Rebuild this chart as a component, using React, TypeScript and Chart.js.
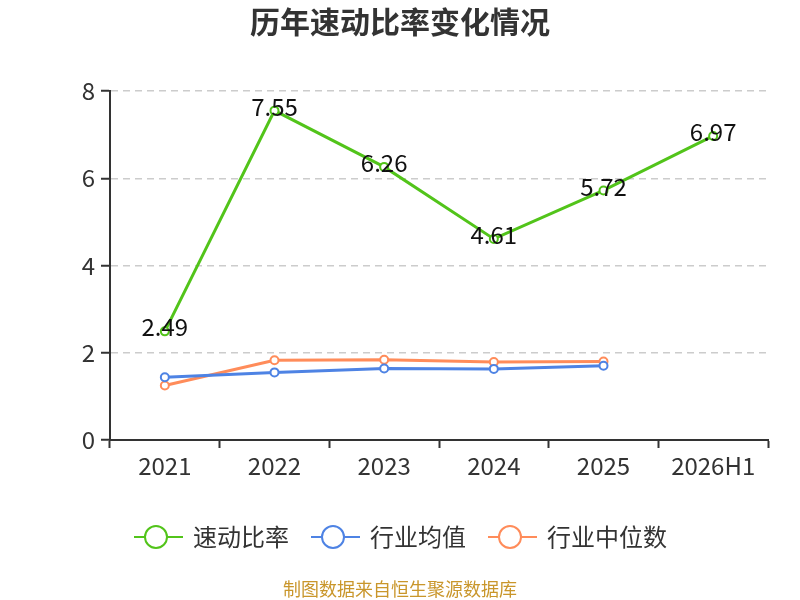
import React, { useEffect, useRef } from "react";
import { Chart, registerables } from "chart.js";

Chart.register(...registerables);

const categories = ["2021", "2022", "2023", "2024", "2025", "2026H1"];
const quickRatio = [2.49, 7.55, 6.26, 4.61, 5.72, 6.97];
const industryMean = [1.44, 1.55, 1.64, 1.63, 1.7, null];
const industryMedian = [1.25, 1.83, 1.84, 1.79, 1.8, null];
const yTicks = [0, 2, 4, 6, 8];
const seriesNames = ["速动比率", "行业均值", "行业中位数"];
const colors = ["#52c41a", "#4e83e4", "#ff8c5a"];
const titleText = "历年速动比率变化情况";
const footerText = "制图数据来自恒生聚源数据库";

const FONT = '"Noto Sans CJK SC", "Noto Sans", sans-serif';

const decorPlugin = {
  id: "decor",
  afterDatasetsDraw(chart: any) {
    const ctx = chart.ctx;
    const meta = chart.getDatasetMeta(0);
    ctx.save();
    ctx.font = `24px ${FONT}`;
    ctx.fillStyle = "#111";
    ctx.textAlign = "center";
    ctx.textBaseline = "middle";
    meta.data.forEach((pt: any, i: number) => {
      const v = quickRatio[i];
      if (v == null) return;
      ctx.fillText(v.toFixed(2), pt.x, pt.y - 4);
    });
    ctx.restore();
  },
  afterDraw(chart: any) {
    const ctx = chart.ctx;
    ctx.save();
    // title
    ctx.font = `bold 30px ${FONT}`;
    ctx.fillStyle = "#333";
    ctx.textAlign = "center";
    ctx.textBaseline = "middle";
    ctx.fillText(titleText, 400, 22);
    // legend
    const items = [
      { x: 134, tx: 193 },
      { x: 311, tx: 370 },
      { x: 488, tx: 547 },
    ];
    const ly = 537;
    items.forEach((it, i) => {
      ctx.strokeStyle = colors[i];
      ctx.lineWidth = 2;
      ctx.beginPath();
      ctx.moveTo(it.x, ly);
      ctx.lineTo(it.x + 49, ly);
      ctx.stroke();
      ctx.beginPath();
      ctx.arc(it.x + 22, ly, 11, 0, Math.PI * 2);
      ctx.fillStyle = "#fff";
      ctx.fill();
      ctx.stroke();
      ctx.font = `24px ${FONT}`;
      ctx.fillStyle = "#333";
      ctx.textAlign = "left";
      ctx.textBaseline = "middle";
      ctx.fillText(seriesNames[i], it.tx, ly);
    });
    // footer
    ctx.font = `18px ${FONT}`;
    ctx.fillStyle = "#c9962b";
    ctx.textAlign = "center";
    ctx.textBaseline = "middle";
    ctx.fillText(footerText, 400, 589);
    ctx.restore();
  },
};

export default function App() {
  const ref = useRef<HTMLCanvasElement>(null);
  useEffect(() => {
    document.body.style.margin = "0";
    const canvas = ref.current!;
    const mk = (label: string, data: any[], color: string) => ({
      label,
      data,
      borderColor: color,
      backgroundColor: "#fff",
      pointBackgroundColor: "#fff",
      pointBorderColor: color,
      pointBorderWidth: 2,
      pointRadius: 4,
      borderWidth: 3,
      tension: 0,
      spanGaps: false,
    });
    const chart = new Chart(canvas, {
      type: "line",
      data: {
        labels: categories,
        datasets: [
          mk(seriesNames[0], quickRatio, colors[0]),
          mk(seriesNames[1], industryMean, colors[1]),
          mk(seriesNames[2], industryMedian, colors[2]),
        ],
      },
      options: {
        animation: false,
        responsive: false,
        devicePixelRatio: 1,
        layout: { padding: { left: 0, top: 91, right: 32, bottom: 120 } },
        plugins: {
          legend: { display: false },
          title: { display: false },
          tooltip: { enabled: false },
        },
        scales: {
          x: {
            offset: true,
            afterFit: (s: any) => {
              s.height = 40;
            },
            grid: {
              drawOnChartArea: false,
              drawTicks: true,
              tickLength: 8,
              tickColor: "#333",
              tickWidth: 2,
              offset: true,
            },
            border: { display: true, color: "#333", width: 2 },
            ticks: {
              color: "#333",
              font: { size: 24, family: FONT },
              padding: 3,
              maxRotation: 0,
            },
          },
          y: {
            min: 0,
            max: 8,
            afterFit: (s: any) => {
              s.width = 110;
            },
            afterBuildTicks: (s: any) => {
              s.ticks = yTicks.map((v) => ({ value: v }));
            },
            grid: {
              color: (c: any) => (c.tick && c.tick.value === 0 ? "rgba(0,0,0,0)" : "#cccccc"),
              lineWidth: 1.5,
              drawTicks: true,
              tickLength: 9,
              tickColor: "#333",
              tickWidth: 2,
            },
            border: { display: true, color: "#333", width: 2, dash: [7, 5] },
            ticks: {
              color: "#333",
              font: { size: 24, family: FONT },
              padding: 6,
            },
          },
        },
      },
      plugins: [decorPlugin],
    });
    return () => chart.destroy();
  }, []);
  return <canvas ref={ref} width={800} height={600} style={{ display: "block", width: 800, height: 600 }} />;
}
